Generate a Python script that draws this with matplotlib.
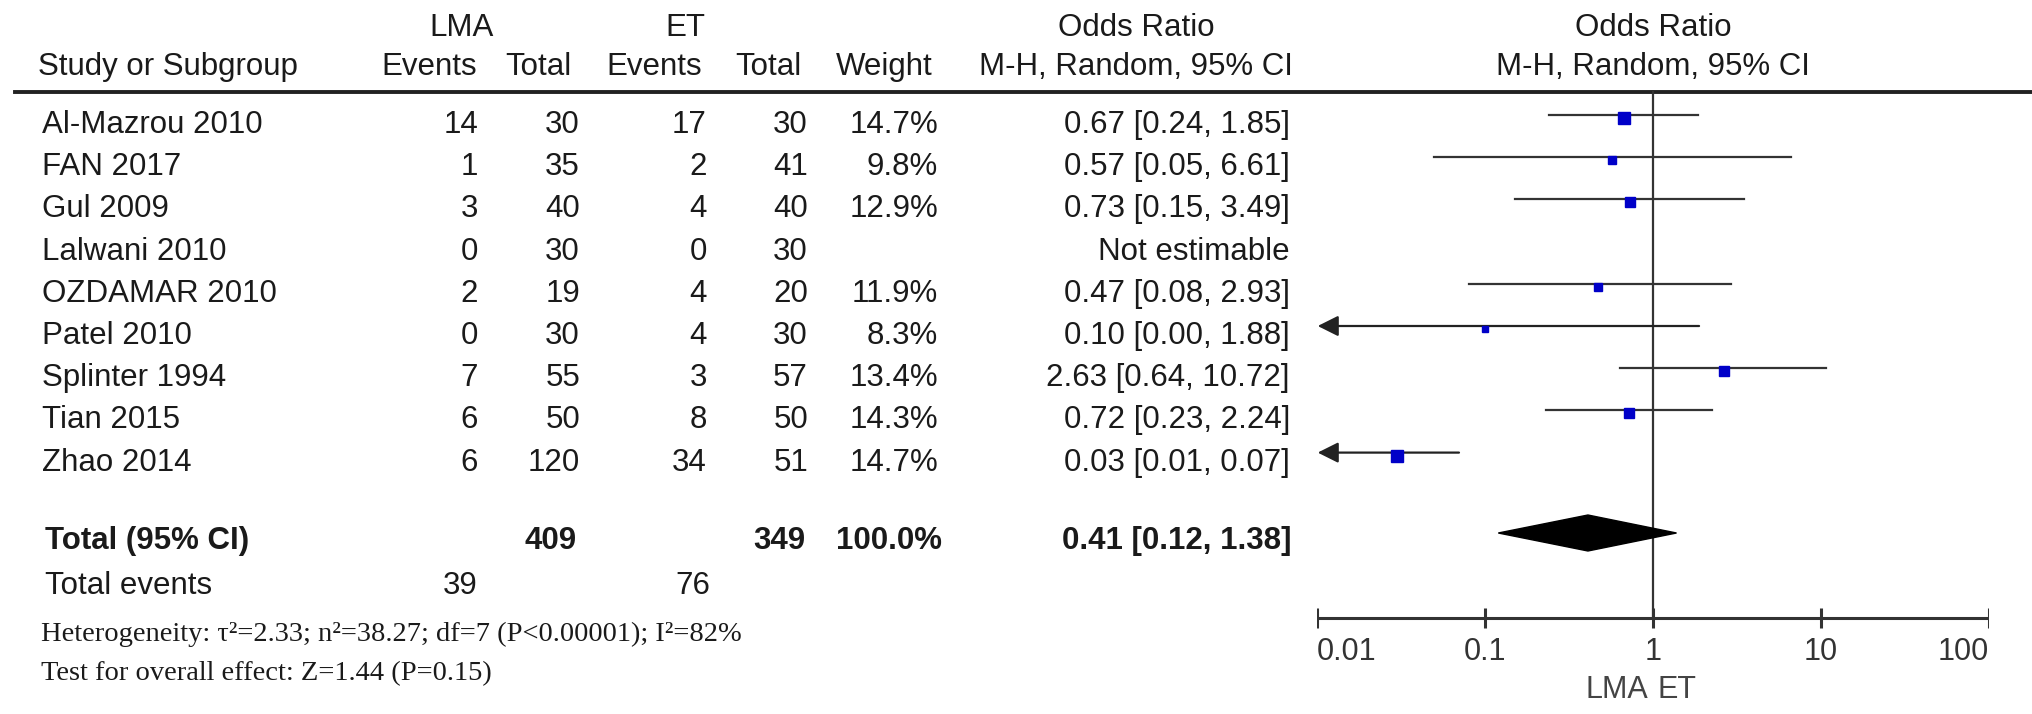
import numpy as np
import matplotlib.pyplot as plt

# Data
studies = ["Al-Mazrou 2010", "FAN 2017", "Gul 2009", "Lalwani 2010", "OZDAMAR 2010",
           "Patel 2010", "Splinter 1994", "Tian 2015", "Zhao 2014"]
lma_events = [14, 1, 3, 0, 2, 0, 7, 6, 6]
lma_total = [30, 35, 40, 30, 19, 30, 55, 50, 120]
et_events = [17, 2, 4, 0, 4, 4, 3, 8, 34]
et_total = [30, 41, 40, 30, 20, 30, 57, 50, 51]
weights = [14.7, 9.8, 12.9, None, 11.9, 8.3, 13.4, 14.3, 14.7]
odds = [0.67, 0.57, 0.73, None, 0.47, 0.10, 2.63, 0.72, 0.03]
ci_low = [0.24, 0.05, 0.15, None, 0.08, 0.00, 0.64, 0.23, 0.01]
ci_high = [1.85, 6.61, 3.49, None, 2.93, 1.88, 10.72, 2.24, 0.07]

total_lma, total_et = 409, 349
events_lma, events_et = 39, 76
pooled = (0.41, 0.12, 1.38)
ticks = [0.01, 0.1, 1, 10, 100]
tick_labels = ["0.01", "0.1", "1", "10", "100"]
het_text = "Heterogeneity: \u03c4\u00b2=2.33; n\u00b2=38.27; df=7 (P<0.00001); I\u00b2=82%"
effect_text = "Test for overall effect: Z=1.44 (P=0.15)"

W, H = 2032, 714
fig = plt.figure(figsize=(W / 100, H / 100), dpi=100)
plt.rcParams['font.family'] = ['Liberation Sans', 'DejaVu Sans']

# text layer in pixel coordinates
ax = fig.add_axes([0, 0, 1, 1])
ax.set_xlim(0, W)
ax.set_ylim(H, 0)
ax.axis('off')

# forest layer, log scale
fx0, fx1 = 1317, 1989
fa = fig.add_axes([fx0 / W, 0, (fx1 - fx0) / W, 1])
fa.set_xscale('log')
fa.set_xlim(0.01, 100)
fa.set_ylim(H, 0)
fa.axis('off')

tc = '#1a1a1a'
fs = 22.5
row0, dy = 125, 42.2
line_off = 10

# headers
ax.text(462, 28, "LMA", ha='center', va='center', fontsize=fs, color=tc)
ax.text(685, 28, "ET", ha='center', va='center', fontsize=fs, color=tc)
ax.text(1136, 28, "Odds Ratio", ha='center', va='center', fontsize=fs, color=tc)
fa.text(1, 28, "Odds Ratio", ha='center', va='center', fontsize=fs, color=tc)
hdr = [("Study or Subgroup", 38, 'left'), ("Events", 477, 'right'), ("Total", 572, 'right'),
       ("Events", 702, 'right'), ("Total", 802, 'right'), ("Weight", 933, 'right')]
for s, x, a in hdr:
    ax.text(x, 67, s, ha=a, va='center', fontsize=fs, color=tc)
ax.text(1136, 67, "M-H, Random, 95% CI", ha='center', va='center', fontsize=fs, color=tc)
fa.text(1, 67, "M-H, Random, 95% CI", ha='center', va='center', fontsize=fs, color=tc)
ax.plot([15, W], [92, 92], color='#222222', lw=2.8)

# rows
for i, name in enumerate(studies):
    y = row0 + i * dy
    ax.text(42, y, name, ha='left', va='center', fontsize=fs, color=tc)
    ax.text(478, y, str(lma_events[i]), ha='right', va='center', fontsize=fs, color=tc)
    ax.text(580, y, str(lma_total[i]), ha='right', va='center', fontsize=fs, color=tc)
    ax.text(707, y, str(et_events[i]), ha='right', va='center', fontsize=fs, color=tc)
    ax.text(808, y, str(et_total[i]), ha='right', va='center', fontsize=fs, color=tc)
    if weights[i] is None:
        ax.text(1290, y, "Not estimable", ha='right', va='center', fontsize=fs, color=tc)
        continue
    ax.text(938, y, "%.1f%%" % weights[i], ha='right', va='center', fontsize=fs, color=tc)
    ax.text(1290, y, "%.2f [%.2f, %.2f]" % (odds[i], ci_low[i], ci_high[i]),
            ha='right', va='center', fontsize=fs, color=tc)
    yl = y - line_off
    if ci_low[i] <= 0.01:
        fa.annotate('', xy=(0.0101, yl), xytext=(ci_high[i], yl),
                    arrowprops=dict(arrowstyle='-|>,head_length=0.7,head_width=0.35',
                                    color='#222222', lw=1.6, mutation_scale=18,
                                    shrinkA=0, shrinkB=0))
    else:
        fa.plot([ci_low[i], ci_high[i]], [yl, yl], color='#333333', lw=1.6)
    side = 0.75 * weights[i] * 0.72
    fa.plot(odds[i], yl + 3, marker='s', ms=side, color='#0000c8', mec='#0000c8', zorder=5)

# totals
yt = 541
ax.text(45, yt, "Total (95% CI)", ha='left', va='center', fontsize=fs, color=tc, weight='bold')
ax.text(577, yt, str(total_lma), ha='right', va='center', fontsize=fs, color=tc, weight='bold')
ax.text(805, yt, str(total_et), ha='right', va='center', fontsize=fs, color=tc, weight='bold')
ax.text(942, yt, "100.0%", ha='right', va='center', fontsize=fs, color=tc, weight='bold')
ax.text(1292, yt, "%.2f [%.2f, %.2f]" % pooled, ha='right', va='center', fontsize=fs,
        color=tc, weight='bold')
est, lo, hi = pooled
yd = 533
fa.fill([lo, est, hi, est], [yd, yd - 18, yd, yd + 18], color='black', zorder=4)

ye = 586
ax.text(45, ye, "Total events", ha='left', va='center', fontsize=fs, color=tc)
ax.text(478, ye, str(events_lma), ha='right', va='center', fontsize=fs, color=tc)
ax.text(710, ye, str(events_et), ha='right', va='center', fontsize=fs, color=tc)

ax.text(41, 634, het_text, ha='left', va='center', fontsize=20.5, color=tc,
        family=['Liberation Serif', 'DejaVu Serif'])
ax.text(41, 674, effect_text, ha='left', va='center', fontsize=20.5, color=tc,
        family=['Liberation Serif', 'DejaVu Serif'])

# null line and axis
ya = 618
fa.plot([1, 1], [92, ya], color='#333333', lw=1.6)
fa.plot([ticks[0], ticks[-1]], [ya, ya], color='#333333', lw=2.2)
fa.vlines(ticks, ya - 10, ya + 10, color='#333333', lw=2.2)
for t, lab in zip(ticks, tick_labels):
    a = 'left' if t == ticks[0] else ('right' if t == ticks[-1] else 'center')
    fa.text(t, 652, lab, ha=a, va='center', fontsize=22, color='#333333')
fa.text(0.94, 690, "LMA", ha='right', va='center', fontsize=22, color='#444444')
fa.text(1.07, 690, "ET", ha='left', va='center', fontsize=22, color='#444444')

fig.savefig('out.png', dpi=100)
